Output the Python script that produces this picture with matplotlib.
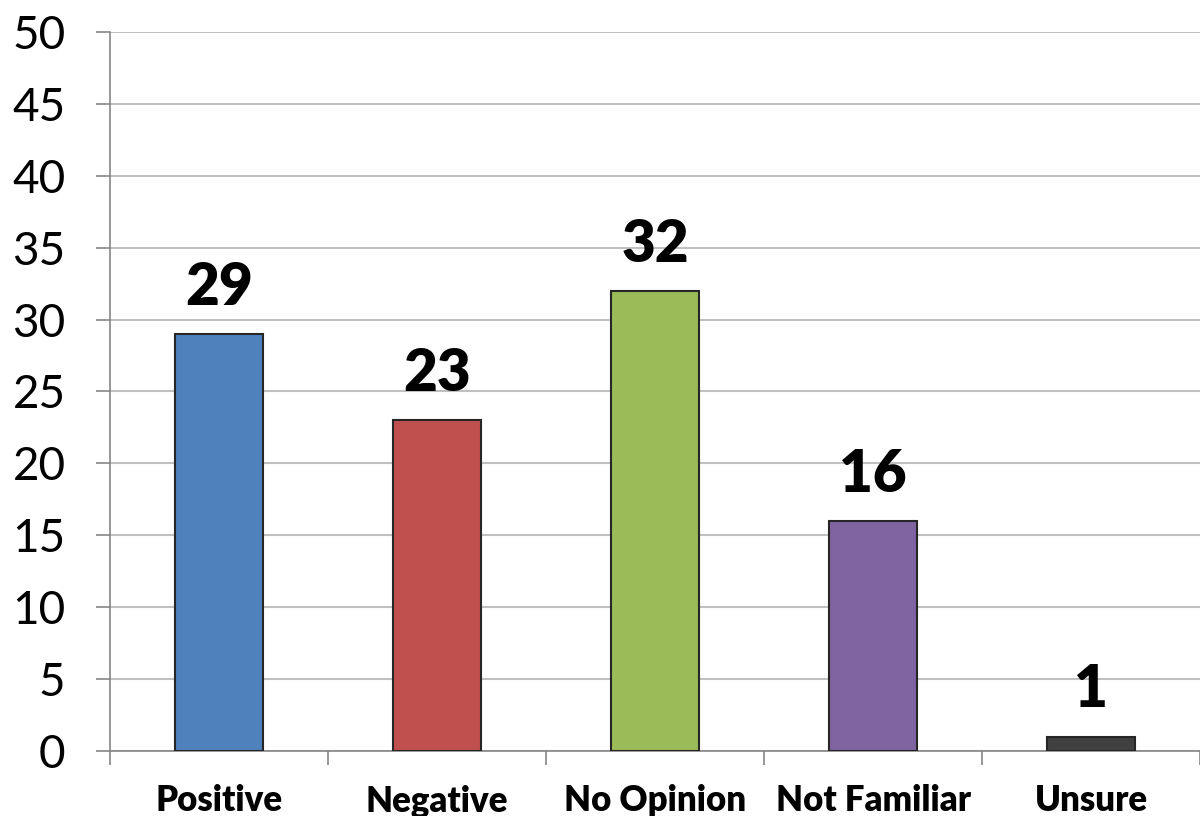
import numpy as np
import matplotlib
matplotlib.use('Agg')
import matplotlib.pyplot as plt

plt.rcParams['font.family'] = ['Lato', 'DejaVu Sans']

# data
categories = ['Positive', 'Negative', 'No Opinion', 'Not Familiar', 'Unsure']
values = [29, 23, 32, 16, 1]
colors = ['#4F81BD', '#C0504D', '#9BBB59', '#8064A2', '#404040']

fig = plt.figure(figsize=(12, 8.16), dpi=100)
ax = fig.add_axes([0.0917, 0.0797, 0.9083, 0.8811])

x = np.arange(len(categories))
bars = ax.bar(x, values, width=0.4, color=colors, edgecolor='#262626', linewidth=1.5, zorder=3)

for b, v in zip(bars, values):
    ax.text(b.get_x() + b.get_width() / 2, v + 1.4, str(v), ha='center', va='bottom',
            fontsize=42, fontweight='heavy', color='black')

ax.set_xlim(-0.5, len(categories) - 0.5)
ax.set_ylim(0, 50)
ax.set_yticks(range(0, 51, 5))
ax.tick_params(axis='y', labelsize=33, length=10, width=1.2, color='#868686', pad=22)

# category labels centred, ticks on boundaries
ax.set_xticks(x)
ax.set_xticklabels(categories, fontsize=25, fontweight='heavy')
ax.tick_params(axis='x', length=0, pad=24)
ax.set_xticks(np.arange(-0.5, len(categories), 1.0), minor=True)
ax.tick_params(axis='x', which='minor', length=10, width=1.2, color='#868686')

ax.yaxis.grid(True, color='#C0C0C0', linewidth=1.5, zorder=0)
ax.set_axisbelow(True)

for s in ['top', 'right']:
    ax.spines[s].set_visible(False)
ax.spines['left'].set_color('#868686')
ax.spines['left'].set_linewidth(1.2)
ax.spines['bottom'].set_color('#868686')
ax.spines['bottom'].set_linewidth(1.2)

fig.savefig('out.png', dpi=100)
